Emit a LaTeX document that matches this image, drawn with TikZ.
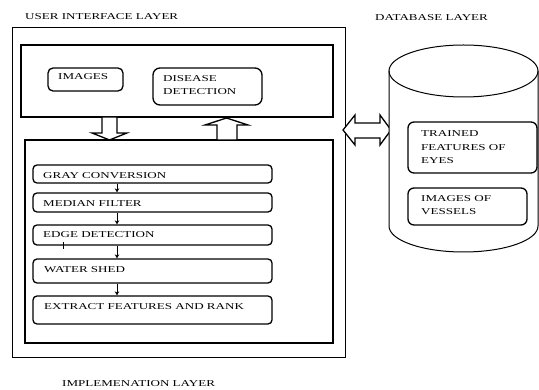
\documentclass[tikz,border=0pt]{standalone}
\usepackage{fontspec}
\setmainfont{Liberation Serif}[FakeStretch=1.45]
\usetikzlibrary{arrows.meta,fit}

\tikzset{
  layerbox/.style={draw, line width=0.8pt, inner sep=0pt},
  innerbox/.style={draw, line width=1.6pt, inner sep=0pt},
  stepbox/.style={draw, line width=1.3pt, rounded corners=4pt, inner sep=0pt},
  dbbox/.style={draw, line width=1.3pt, rounded corners=6pt, inner sep=0pt},
  lbl/.style={anchor=base west, inner sep=0pt},
  steparrow/.style={line width=0.8pt, -{Stealth[length=4pt,width=4.5pt]}},
  blockarrow/.style={draw, line width=1.3pt, fill=white, line join=miter},
}

\begin{document}
\begin{tikzpicture}[x=1pt, y=-1pt, font=\fontsize{9}{13.5}\selectfont]
\useasboundingbox (0,0) rectangle (539,390);

% layer titles
\node[lbl] (uititle) at (25,20) {USER INTERFACE LAYER};
\node[lbl] (dbtitle) at (375,21) {DATABASE LAYER};
\node[lbl] (imtitle) at (62,387) {IMPLEMENATION LAYER};

% user interface / implementation frame
\node[layerbox, fit={(12,27) (345,357)}] (outer) {};
\node[innerbox, fit={(21,45) (333,117)}] (ui) {};
\node[innerbox, fit={(25,140) (333,343)}] (impl) {};

% user interface boxes
\node[stepbox, rounded corners=5pt, fit={(48,68) (123,91)}] (images) {};
\node[lbl] (imagestxt) at (58,80) {IMAGES};
\node[stepbox, rounded corners=7pt, fit={(153,68) (262,105)}] (disease) {};
\node[lbl] (diseasetxta) at (163,82) {DISEASE};
\node[lbl] (diseasetxtb) at (163,95) {DETECTION};

% block arrows between the two inner layers
\path[blockarrow] (102,117) -- (117,117) -- (117,133) -- (127,133) -- (109.5,140)
  -- (92,133) -- (102,133) -- cycle;
\path[blockarrow] (217,140) -- (237,140) -- (237,125) -- (248,125) -- (226.5,118)
  -- (205,125) -- (217,125) -- cycle;

% processing pipeline
\node[stepbox, fit={(33,165) (272,183)}] (gray) {};
\node[stepbox, fit={(33,193) (272,212)}] (median) {};
\node[stepbox, fit={(33,225) (272,245)}] (edge) {};
\node[stepbox, fit={(33,259) (272,283)}] (water) {};
\node[stepbox, fit={(33,296) (272,324)}] (extract) {};

\node[lbl] (graytxt) at (43,179) {GRAY CONVERSION};
\node[lbl] (mediantxt) at (43,207) {MEDIAN FILTER};
\node[lbl] (edgetxt) at (43,238) {EDGE DETECTION};
\node[lbl] (watertxt) at (44,273) {WATER SHED};
\node[lbl] (extracttxt) at (44,310) {EXTRACT FEATURES AND RANK};

\draw[steparrow] ([xshift=-35.5pt]gray.south) -- ([xshift=-35.5pt]median.north);
\draw[steparrow] ([xshift=-35.5pt]median.south) -- ([xshift=-35.5pt]edge.north);
\draw[steparrow] ([xshift=-35.5pt]edge.south) -- ([xshift=-35.5pt]water.north);
\draw[steparrow] ([xshift=-35.5pt]water.south) -- ([xshift=-35.5pt]extract.north);

% small stray mark under the edge detection box
\draw[line width=1pt] (63,242) -- (63,249);

% double block arrow to the database
\path[blockarrow] (343,130) -- (355,115) -- (355,123) -- (380,123) -- (380,115)
  -- (391,130) -- (380,145) -- (380,138) -- (355,138) -- (355,145) -- cycle;

% database cylinder
\draw[line width=1pt, fill=white] (389,71) -- (389,226)
  arc[start angle=180, end angle=0, x radius=74.5, y radius=26] -- (538,71);
\draw[line width=1pt] (463.5,71) ellipse [x radius=74.5, y radius=26];

\node[dbbox, fit={(408,122) (537,173)}] (trained) {};
\node[lbl] (trainedtxta) at (421,137) {TRAINED};
\node[lbl] (trainedtxtb) at (421,151) {FEATURES OF};
\node[lbl] (trainedtxtc) at (421,164) {EYES};
\node[dbbox, fit={(408,188) (527,225)}] (vessels) {};
\node[lbl] (vesselstxta) at (421,202) {IMAGES OF};
\node[lbl] (vesselstxtb) at (421,215) {VESSELS};
\end{tikzpicture}
\end{document}
